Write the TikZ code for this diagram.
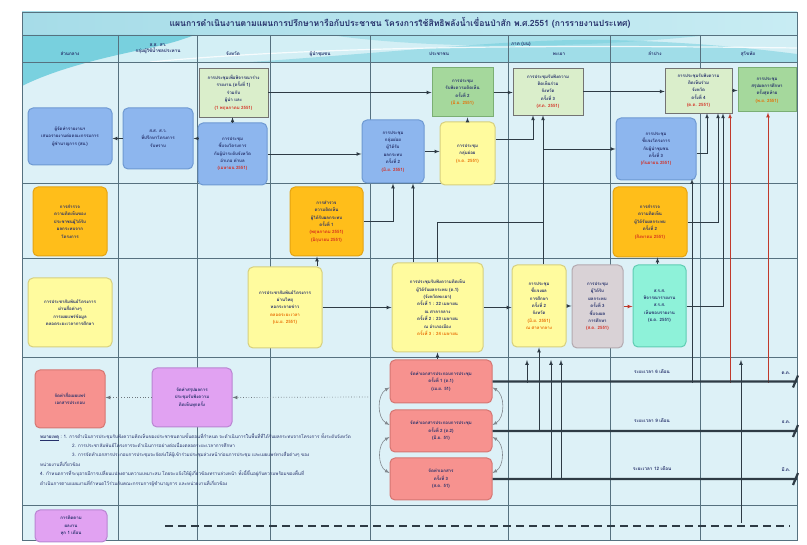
\documentclass[tikz,border=0pt]{standalone}
\usepackage{fontspec}
\usetikzlibrary{arrows}
\newfontfamily\thaifont[Script=Thai]{Loma}

\definecolor{gridbg}{HTML}{DDF1F7}
\definecolor{laneline}{HTML}{56717F}
\definecolor{titlecyanA}{HTML}{A6DCE8}
\definecolor{titlecyanB}{HTML}{C8ECF3}
\definecolor{headcyan}{HTML}{D3EFF5}
\definecolor{wavecyan}{HTML}{62C9D9}
\definecolor{navytxt}{HTML}{25306A}
\definecolor{datered}{HTML}{D42A1E}
\definecolor{dateorange}{HTML}{E86A00}
\definecolor{boxblue}{HTML}{8DB6EE}
\definecolor{boxblueline}{HTML}{6E99D2}
\definecolor{boxgreen}{HTML}{A5D89C}
\definecolor{boxgreenline}{HTML}{7BAF74}
\definecolor{palegreen}{HTML}{DAEECB}
\definecolor{boxorange}{HTML}{FFBE1A}
\definecolor{boxorangeline}{HTML}{E3A313}
\definecolor{boxyellow}{HTML}{FFFB9E}
\definecolor{boxyellowline}{HTML}{D6CF7E}
\definecolor{boxgray}{HTML}{D9D2D6}
\definecolor{boxgrayline}{HTML}{B3A9AF}
\definecolor{boxteal}{HTML}{8EF2D9}
\definecolor{boxtealline}{HTML}{5FCDB3}
\definecolor{boxred}{HTML}{F7928F}
\definecolor{boxredline}{HTML}{D57672}
\definecolor{boxpurple}{HTML}{E1A2F2}
\definecolor{boxpurpleline}{HTML}{B985D2}
\definecolor{connline}{HTML}{2E3B45}
\definecolor{redline}{HTML}{C0392B}

\newcommand\boxtext{\thaifont\bfseries\fontsize{4.4}{7.4}\selectfont}
\newcommand\headtext{\thaifont\bfseries\fontsize{4.6}{6}\selectfont}
\newcommand\rdate[1]{\textcolor{datered}{#1}}
\newcommand\odate[1]{\textcolor{dateorange}{#1}}

\tikzset{
  lane/.style={draw=laneline, line width=0.6pt},
  box/.style={rounded corners=5pt, line width=1pt, align=center, inner sep=1pt,
    font=\boxtext, text=navytxt},
  bluebox/.style={box, fill=boxblue, draw=boxblueline},
  greenbox/.style={box, rounded corners=0pt, fill=boxgreen, draw=boxgreenline},
  paleboxsq/.style={box, rounded corners=0pt, fill=palegreen, draw=black!55, line width=0.6pt},
  orangebox/.style={box, fill=boxorange, draw=boxorangeline},
  yellowbox/.style={box, fill=boxyellow, draw=boxyellowline},
  graybox/.style={box, fill=boxgray, draw=boxgrayline},
  tealbox/.style={box, fill=boxteal, draw=boxtealline},
  redbox/.style={box, fill=boxred, draw=boxredline},
  purplebox/.style={box, fill=boxpurple, draw=boxpurpleline},
  headlbl/.style={font=\headtext, text=navytxt, align=center, inner sep=0pt},
  conn/.style={draw=connline, line width=0.7pt, ->},
  redconn/.style={draw=redline, line width=0.7pt, ->},
  dotconn/.style={draw=connline!70, line width=0.7pt, dotted, ->},
  curve/.style={draw=connline!60, line width=0.6pt, <->},
  tline/.style={draw=connline, line width=2.2pt},
  tlbl/.style={font=\headtext, text=navytxt, inner sep=0pt}
}

\begin{document}
\begin{tikzpicture}[x=1pt, y=-1pt, >=latex]
\useasboundingbox (0,0) rectangle (807,545);

\fill[gridbg] (22,62) rectangle (797,540);
\shade[left color=titlecyanA, right color=titlecyanB] (22,12) rectangle (797,35);
\fill[headcyan] (22,35) rectangle (797,62);
\fill[wavecyan, opacity=0.8] (22,35) -- (22,86) .. controls (50,72) and (90,60) .. (150,48) .. controls (175,42) .. (195,35) -- cycle;
\fill[wavecyan, opacity=0.45] (250,62) .. controls (400,52) and (520,38) .. (610,40) .. controls (690,42) and (750,48) .. (797,54) -- (797,62) -- cycle;
\fill[wavecyan, opacity=0.35] (330,35) .. controls (420,48) and (560,50) .. (700,36) -- (700,35) -- cycle;
\draw[white, line width=1.2pt, opacity=0.8] (150,62) .. controls (300,48) and (500,44) .. (797,48);

\foreach \x in {118,197,270,370,508,610,700}
  \draw[lane] (\x,35) -- (\x,540);
\foreach \y in {35,62,183,258,357,505}
  \draw[lane] (22,\y) -- (797,\y);
\draw[lane, line width=0.8pt] (22,12) rectangle (797,540);

\node[font=\thaifont\bfseries\fontsize{8.6}{9}\selectfont, text=navytxt] (title) at (400,23)
  {แผนการดำเนินงานตามแผนการปรึกษาหารือกับประชาชน โครงการใช้สิทธิพลังน้ำเขื่อนป่าสัก พ.ศ.2551 (การรายงานประเทศ)};

\node[headlbl] (h1) at (70,54) {ส่วนกลาง};
\node[headlbl] (h2) at (158,48.5) {ส.ส. สว.\\กลุ่มผู้ใช้น้ำชลประทาน};
\node[headlbl] (h3) at (233,54) {จังหวัด};
\node[headlbl] (h4) at (320,54) {ผู้นำชุมชน};
\node[headlbl] (h5) at (439,54) {ประชาชน};
\node[headlbl, anchor=west] (h6a) at (511,44) {ภาค (บน)};
\node[headlbl] (h6) at (559,54) {พะเยา};
\node[headlbl] (h7) at (655,54) {ลำปาง};
\node[headlbl] (h8) at (748,54) {สุโขทัย};

\node[bluebox, minimum width=84pt, minimum height=57pt] (a1) at (70,136.5)
  {ผู้จัดทำรายงานฯ\\เสนอรายงานต่อคณะกรรมการ\\ผู้ชำนาญการ (สผ.)};
\node[bluebox, minimum width=70pt, minimum height=61pt] (a2) at (158,138.5)
  {ส.ส. ส.ว.\\ที่ปรึกษาโครงการ\\รับทราบ};
\node[bluebox, minimum width=69pt, minimum height=62pt] (a3) at (232.5,154)
  {การประชุม\\ชี้แจงโครงการ\\กับผู้นำระดับจังหวัด\\อำเภอ ตำบล\\\rdate{(เมษายน 2551)}};
\node[paleboxsq, minimum width=69pt, minimum height=49pt] (pg1) at (233.5,92.5)
  {การประชุมเพื่อพิจารณาร่าง\\รายงาน (ครั้งที่ 1)\\ร่วมกับ\\ผู้นำ และ\\\rdate{(1 พฤษภาคม 2551)}};
\node[bluebox, minimum width=62pt, minimum height=63pt] (a4) at (393,151.5)
  {การประชุม\\กลุ่มย่อย\\ผู้ได้รับ\\ผลกระทบ\\ครั้งที่ 2\\\rdate{(มิ.ย. 2551)}};
\node[greenbox, minimum width=61pt, minimum height=49pt] (g1) at (462.5,92.5)
  {การประชุม\\รับฟังความคิดเห็น\\ครั้งที่ 2\\\odate{(มิ.ย. 2551)}};
\node[yellowbox, minimum width=55pt, minimum height=63pt] (y1) at (467.5,153.5)
  {การประชุม\\กลุ่มย่อย\\\odate{(ก.ค. 2551)}};
\node[paleboxsq, minimum width=70pt, minimum height=47pt] (pg2) at (548,91.5)
  {การประชุมรับฟังความ\\คิดเห็นร่วม\\จังหวัด\\ครั้งที่ 3\\\rdate{(ส.ค. 2551)}};
\node[bluebox, minimum width=80pt, minimum height=62pt] (a5) at (656,149)
  {การประชุม\\ชี้แจงโครงการ\\กับผู้นำชุมชน\\ครั้งที่ 3\\\rdate{(กันยายน 2551)}};
\node[paleboxsq, minimum width=67pt, minimum height=45pt] (pg3) at (698.5,90.5)
  {การประชุมรับฟังความ\\คิดเห็นร่วม\\จังหวัด\\ครั้งที่ 4\\\rdate{(ต.ค. 2551)}};
\node[greenbox, minimum width=58pt, minimum height=44pt] (g4) at (767,90)
  {การประชุม\\สรุปผลการศึกษา\\ครั้งสุดท้าย\\\odate{(พ.ย. 2551)}};

\node[orangebox, minimum width=74pt, minimum height=69pt] (o1) at (70,221.5)
  {การสำรวจ\\ความคิดเห็นของ\\ประชาชนผู้ได้รับ\\ผลกระทบจาก\\โครงการ};
\node[orangebox, minimum width=73pt, minimum height=69pt] (o2) at (326.5,221.5)
  {การสำรวจ\\ความคิดเห็น\\ผู้ได้รับผลกระทบ\\ครั้งที่ 1\\\rdate{(พฤษภาคม 2551)}\\\rdate{(มิถุนายน 2551)}};
\node[orangebox, minimum width=74pt, minimum height=70pt] (o3) at (650,222)
  {การสำรวจ\\ความคิดเห็น\\ผู้ได้รับผลกระทบ\\ครั้งที่ 2\\\rdate{(สิงหาคม 2551)}};

\node[yellowbox, minimum width=84pt, minimum height=69pt] (y2) at (70,312.5)
  {การประชาสัมพันธ์โครงการ\\ผ่านสื่อต่างๆ\\การเผยแพร่ข้อมูล\\ตลอดระยะเวลาการศึกษา};
\node[yellowbox, minimum width=74pt, minimum height=81pt] (y3) at (285,307.5)
  {การประชาสัมพันธ์โครงการ\\ผ่านวิทยุ\\หอกระจายข่าว\\\odate{ตลอดระยะเวลา}\\\odate{(เม.ย. 2551)}};
\node[yellowbox, minimum width=91pt, minimum height=89pt] (y4) at (437.5,307.5)
  {การประชุมรับฟังความคิดเห็น\\ผู้ได้รับผลกระทบ (ค.1)\\(จังหวัดพะเยา)\\ครั้งที่ 1 : 22 เมษายน\\ณ ศาลากลาง\\ครั้งที่ 2 : 23 เมษายน\\ณ อำเภอเมือง\\\odate{ครั้งที่ 3 : 24 เมษายน}};
\node[yellowbox, minimum width=54pt, minimum height=82pt] (y5) at (539,306)
  {การประชุม\\ชี้แจงผล\\การศึกษา\\ครั้งที่ 2\\จังหวัด\\\odate{(มิ.ย. 2551)}\\\odate{ณ ศาลากลาง}};
\node[graybox, minimum width=51pt, minimum height=83pt] (gr) at (597.5,306.5)
  {การประชุม\\ผู้ได้รับ\\ผลกระทบ\\ครั้งที่ 3\\ชี้แจงผล\\การศึกษา\\\rdate{(ส.ค. 2551)}};
\node[tealbox, minimum width=53pt, minimum height=82pt] (tl) at (659.5,306)
  {ส.ร.ส.\\พิจารณารายงาน\\ส.ร.ส.\\เห็นชอบรายงาน\\(ธ.ค. 2551)};

\node[redbox, minimum width=70pt, minimum height=58pt] (r1) at (70,399)
  {จัดทำสื่อเผยแพร่\\เอกสารประกอบ};
\node[purplebox, minimum width=80pt, minimum height=59pt] (p1) at (192,397.5)
  {จัดทำสรุปผลการ\\ประชุมรับฟังความ\\คิดเห็นทุกครั้ง};
\node[redbox, minimum width=102pt, minimum height=43pt] (r2) at (441,381.5)
  {จัดทำเอกสารประกอบการประชุม\\ครั้งที่ 1 (ค.1)\\(เม.ย. 51)};
\node[redbox, minimum width=102pt, minimum height=42pt] (r3) at (441,431)
  {จัดทำเอกสารประกอบการประชุม\\ครั้งที่ 2 (ค.2)\\(มิ.ย. 51)};
\node[redbox, minimum width=102pt, minimum height=42pt] (r4) at (441,479)
  {จัดทำเอกสาร\\ครั้งที่ 3\\(ส.ค. 51)};
\node[purplebox, minimum width=72pt, minimum height=32pt] (p2) at (71,526)
  {การติดตาม\\ผลงาน\\ทุก 1 เดือน};

\node[font=\thaifont\fontsize{4.6}{9.4}\selectfont, text=navytxt, align=left, anchor=north west, inner sep=0pt] (note) at (40,433)
  {\underline{\textbf{หมายเหตุ}} :\ 1. การดำเนินการประชุมรับฟังความคิดเห็นของประชาชนตามขั้นตอนที่กำหนด จะดำเนินการในพื้นที่ที่ได้รับผลกระทบจากโครงการ ทั้งระดับจังหวัด\\
  \hspace*{32pt}2. การประชาสัมพันธ์โครงการจะดำเนินการอย่างต่อเนื่องตลอดระยะเวลาการศึกษา\\
  \hspace*{32pt}3. การจัดทำเอกสารประกอบการประชุมจะจัดส่งให้ผู้เข้าร่วมประชุมล่วงหน้าก่อนการประชุม และเผยแพร่ทางสื่อต่างๆ ของ\\
  หน่วยงานที่เกี่ยวข้อง\\
  4. กำหนดการที่ระบุอาจมีการเปลี่ยนแปลงตามความเหมาะสม โดยจะแจ้งให้ผู้เกี่ยวข้องทราบล่วงหน้า ทั้งนี้ขึ้นอยู่กับความพร้อมของพื้นที่\\
  ดำเนินการตามแผนงานที่กำหนดไว้ร่วมกับคณะกรรมการผู้ชำนาญการ และหน่วยงานที่เกี่ยวข้อง};

\coordinate (e0) at (797,0);
\coordinate (j1) at (543,222);
\coordinate (j2) at (543,149);
\coordinate (d1) at (368,397);
\coordinate (k1) at (730,383);
\coordinate (k2) at (768,383);
\coordinate (k3) at (692,383);
\coordinate (k4) at (741,523);
\coordinate (k5) at (741,360);
\coordinate (m1) at (527,383);
\coordinate (m2) at (551,479);
\coordinate (m3) at (561,479);
\coordinate (m4) at (539,432);

\draw[conn] (a3.west |- a2.east) -- (a2.east);
\draw[conn] (a2.west) -- (a1.east |- a2.west);
\draw[conn] (a3.north) -- (a3.north |- pg1.south);
\draw[conn] (pg1.east) -- (g1.west);
\draw[conn] (g1.east) -- (g1.east -| pg2.west);
\draw[conn] (pg2.east) -- (pg2.east -| pg3.west);
\draw[conn] (pg3.east) -- (pg3.east -| g4.west);
\draw[conn] (a3.east) -- (a3.east -| a4.west);
\draw[conn] (a4.east) -- (a4.east -| y1.west);
\draw[conn] (y1.north) -- (y1.north |- g1.south);
\draw[conn] ([yshift=14.5pt]y1.east) -| ([xshift=-15pt]pg2.south);
\draw[conn] ([xshift=4pt]y5.north) -- ([xshift=4pt]y5.north |- pg2.south);
\draw[connline, line width=0.7pt] (y4.north) |- (j1);
\draw[conn] (j2) -- (j2 -| a5.west);
\draw[conn] ([xshift=-24.5pt]y4.north) -- ([xshift=-24.5pt]y4.north |- a4.south);
\draw[conn] (o2.east) -| (a4.south);
\draw[conn] ([xshift=32pt]y3.north) -- ([xshift=32pt]y3.north |- o2.south);
\draw[conn] (y3.east) -- (y3.east -| y4.west);
\draw[conn] (y4.east) -- (y4.east -| y5.west);
\draw[conn] (y5.east) -- (y5.east -| gr.west);
\draw[redconn] (gr.east) -- (gr.east -| tl.west);
\draw[conn] ([xshift=-2pt]tl.north) -- ([xshift=-2pt]tl.north |- o3.south);
\draw[conn] ([yshift=-4pt]a5.east) -| ([xshift=8.5pt]pg3.south);
\draw[conn] (o3.east) -| ([xshift=19.5pt]pg3.south);
\draw[conn] (tl.east) -| ([xshift=24.5pt]pg3.south);
\draw[redconn] (k1) -- (k1 |- pg3.south);
\draw[redconn] (k2) -- (k2 |- g4.south);
\draw[conn] (k3) -- ([yshift=1.5pt]k3 |- a5.south);
\draw[conn] (k4) -- (k5);
\draw[conn] (m1) -- (m1 |- k5);
\draw[conn] (m2) -- (m2 |- k5);
\draw[conn] (m3) -- (m3 |- k5);
\draw[conn] (m4) -- (m4 |- y5.south);
\draw[conn] (y4.south |- r2.north) -- (y4.south);

\draw[dotconn] (d1) -- (p1.east);
\draw[dotconn] (p1.west) -- (r1.east |- p1.west);
\draw[curve] ([yshift=-6pt]r2.west) to[bend right=60] ([yshift=6pt]r3.west);
\draw[curve] ([yshift=-6pt]r3.west) to[bend right=60] ([yshift=6pt]r4.west);
\draw[curve] ([yshift=-6pt]r2.east) to[bend left=60] ([yshift=6pt]r3.east);
\draw[curve] ([yshift=-6pt]r3.east) to[bend left=60] ([yshift=6pt]r4.east);

\draw[tline] (r2.east) -- (r2.east -| e0) ++(-4,6) -- ++(5,-12);
\draw[tline] (r3.east) -- (r3.east -| e0) ++(-4,6) -- ++(5,-12);
\draw[tline] (r4.east) -- (r4.east -| e0) ++(-4,6) -- ++(5,-12);
\node[tlbl] (tl1) at (652,372) {ระยะเวลา 6 เดือน};
\node[tlbl] (tl2) at (652,421) {ระยะเวลา 9 เดือน};
\node[tlbl] (tl3) at (652,469) {ระยะเวลา 12 เดือน};
\node[tlbl] (te1) at (786,373) {ต.ค.};
\node[tlbl] (te2) at (786,422) {ธ.ค.};
\node[tlbl] (te3) at (786,470) {มี.ค.};

\draw[connline, line width=2pt, dash pattern=on 8pt off 5pt] (p2.east -| 165,0) -- (p2.east -| 790,0);
\end{tikzpicture}
\end{document}
